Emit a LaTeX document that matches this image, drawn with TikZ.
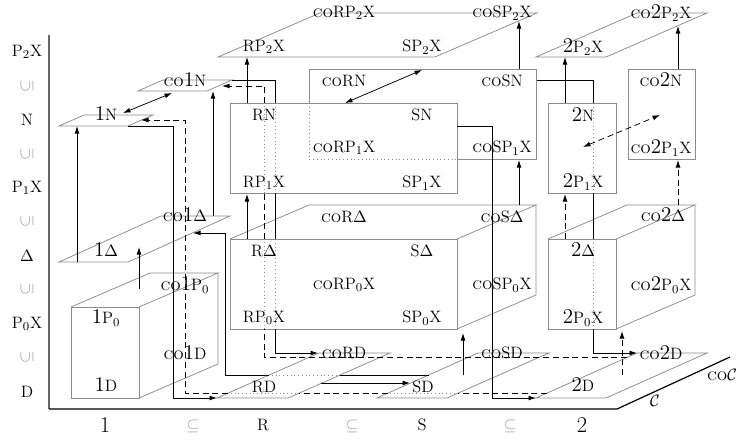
\documentclass[tikz,border=0pt]{standalone}
\usepackage{fontspec}
\usetikzlibrary{arrows.meta}
\newcommand{\dg}[1]{{\fontsize{14}{16}\selectfont #1}}
\newcommand{\co}{\textsc{co}}
\begin{document}
\begin{tikzpicture}[x=0.6667pt,y=-0.6667pt,
  font=\fontsize{11}{13}\selectfont,
  pl/.style={draw=black!45, line width=0.5pt},
  ln/.style={draw=black, line width=0.5pt},
  ar/.style={ln, -{Latex[length=5pt,width=3.2pt]}},
  dbl/.style={ln, {Latex[length=5pt,width=3.2pt]}-{Latex[length=5pt,width=3.2pt]}},
  dsh/.style={ln, dash pattern=on 4pt off 2.5pt},
  dar/.style={ar, dash pattern=on 4pt off 2.5pt},
  ddbl/.style={dbl, dash pattern=on 4pt off 2.5pt},
  hid/.style={draw=black!45, dotted, line width=0.5pt},
  lb/.style={inner sep=0pt, anchor=center},
  sub/.style={inner sep=0pt, anchor=center, text=black!40},
]
\useasboundingbox (0,0) rectangle (742,439);

% axes
\draw[draw=black!60, line width=0.8pt] (49,35) -- (49,409);
\draw[line width=0.8pt] (49,409) -- (617,409) -- (730,357);
\node[lb] (coC) at (722,375) {\co$\mathcal{C}$};
\node[lb] (C) at (655,401) {$\mathcal{C}$};

% row labels
\node[lb] (rP2) at (27,52) {P$_2$X};
\node[sub,rotate=90] (s1) at (27,86) {$\subseteq$};
\node[lb] (rN) at (27,120) {N};
\node[sub,rotate=90] (s2) at (27,154) {$\subseteq$};
\node[lb] (rP1) at (27,188) {P$_1$X};
\node[sub,rotate=90] (s3) at (27,221) {$\subseteq$};
\node[lb] (rDe) at (27,256) {$\Delta$};
\node[sub,rotate=90] (s4) at (27,289) {$\subseteq$};
\node[lb] (rP0) at (27,324) {P$_0$X};
\node[sub,rotate=90] (s5) at (27,357) {$\subseteq$};
\node[lb] (rD) at (27,392) {D};

% column labels
\node[lb] (c1) at (105,425) {\fontsize{15}{17}\selectfont 1};
\node[sub] (t1) at (193,426) {$\subseteq$};
\node[lb] (cR) at (263,425) {R};
\node[sub] (t2) at (352,426) {$\subseteq$};
\node[lb] (cS) at (422,425) {S};
\node[sub] (t3) at (510,426) {$\subseteq$};
\node[lb] (c2) at (582,425) {\fontsize{15}{17}\selectfont 2};

% ---------- planes ----------
\draw[pl] (59,126) -- (128,126) -- (153,115) -- (84,115) -- cycle;
\draw[pl] (138,91) -- (207,91) -- (232,80) -- (163,80) -- cycle;
\draw[pl] (59,262) -- (128,262) -- (230,216) -- (161,216) -- cycle;
\draw[pl] (217,398) -- (288,398) -- (390,353) -- (319,353) -- cycle;
\draw[pl] (377,398) -- (447,398) -- (549,353) -- (478,353) -- cycle;
\draw[pl] (536,398) -- (606,398) -- (707,353) -- (637,353) -- cycle;
\draw[pl] (218,57) -- (435,57) -- (537,13) -- (320,13) -- cycle;
\draw[pl] (536,57) -- (606,57) -- (707,13) -- (637,13) -- cycle;

% ---------- boxes ----------
\draw[pl] (71,307) rectangle (139,398);
\draw[pl] (71,307) -- (150,273) -- (218,273) -- (139,307);
\draw[pl] (218,273) -- (218,364) -- (139,398);
\draw[pl] (230,239) rectangle (457,329);
\draw[pl] (230,239) -- (309,205) -- (536,205) -- (457,239);
\draw[pl] (536,205) -- (536,295) -- (457,329);
\draw[pl] (548,239) rectangle (616,329);
\draw[pl] (548,239) -- (627,205) -- (695,205) -- (616,239);
\draw[pl] (695,205) -- (695,295) -- (616,329);

% ---------- N / P1X rectangles ----------
\draw[pl] (230,103) rectangle (457,193);
\draw[pl] (309,103) -- (309,69) -- (536,69) -- (536,159) -- (457,159);
\draw[hid] (309,103) -- (309,159) -- (457,159);
\draw[pl] (548,103) rectangle (616,193);
\draw[pl] (628,69) rectangle (695,159);

% ---------- labels column 1 ----------
\node[lb] (n1N) at (106,114) {\dg{1}N};
\node[lb] (nco1N) at (185,80) {\co\dg{1}N};
\node[lb] (n1De) at (106,250) {\dg{1}$\Delta$};
\node[lb] (nco1De) at (185,215) {\co\dg{1}$\Delta$};
\node[lb] (n1P) at (106,318) {\dg{1}P$_0$};
\node[lb] (nco1P) at (185,285) {\co\dg{1}P$_0$};
\node[lb] (n1D) at (106,385) {\dg{1}D};
\node[lb] (nco1D) at (185,353) {\co\dg{1}D};

% ---------- labels R / S ----------
\node[lb] (nRP2) at (264,47) {RP$_2$X};
\node[lb] (nSP2) at (422,47) {SP$_2$X};
\node[lb] (ncoRP2) at (344,13) {\co RP$_2$X};
\node[lb] (ncoSP2) at (502,13) {\co SP$_2$X};
\node[lb] (nRN) at (264,115) {RN};
\node[lb] (nSN) at (422,115) {SN};
\node[lb] (ncoRN) at (344,81) {\co RN};
\node[lb] (ncoSN) at (502,81) {\co SN};
\node[lb] (ncoRP1) at (344,148) {\co RP$_1$X};
\node[lb] (ncoSP1) at (502,148) {\co SP$_1$X};
\node[lb] (nRP1) at (264,183) {RP$_1$X};
\node[lb] (nSP1) at (422,183) {SP$_1$X};
\node[lb] (ncoRDe) at (344,217) {\co R$\Delta$};
\node[lb] (ncoSDe) at (502,217) {\co S$\Delta$};
\node[lb] (nRDe) at (264,251) {R$\Delta$};
\node[lb] (nSDe) at (422,251) {S$\Delta$};
\node[lb] (ncoRP0) at (344,285) {\co RP$_0$X};
\node[lb] (ncoSP0) at (502,285) {\co SP$_0$X};
\node[lb] (nRP0) at (264,318) {RP$_0$X};
\node[lb] (nSP0) at (422,318) {SP$_0$X};
\node[lb] (ncoRD) at (344,353) {\co RD};
\node[lb] (ncoSD) at (502,353) {\co SD};
\node[lb] (nRD) at (264,387) {RD};
\node[lb] (nSD) at (423,387) {SD};

% ---------- labels column 2 ----------
\node[lb] (n2P2) at (583,47) {\dg{2}P$_2$X};
\node[lb] (nco2P2) at (661,13) {\co\dg{2}P$_2$X};
\node[lb] (nco2N) at (661,80) {\co\dg{2}N};
\node[lb] (n2N) at (583,115) {\dg{2}N};
\node[lb] (nco2P1) at (661,148) {\co\dg{2}P$_1$X};
\node[lb] (n2P1) at (583,182) {\dg{2}P$_1$X};
\node[lb] (nco2De) at (663,215) {\co\dg{2}$\Delta$};
\node[lb] (n2De) at (583,250) {\dg{2}$\Delta$};
\node[lb] (nco2P0) at (661,285) {\co\dg{2}P$_0$X};
\node[lb] (n2P0) at (583,318) {\dg{2}P$_0$X};
\node[lb] (nco2D) at (661,353) {\co\dg{2}D};
\node[lb] (n2D) at (583,385) {\dg{2}D};

% ---------- connectors ----------
% column 1
\draw[dbl] (123,113) -- (172,93);
\draw[ar] (77,262) -- (77,126);
\draw[ar] (128,126) -- (173,126) -- (173,398) -- (217,398);
\draw[dsh] (547,393) -- (458,393);
\draw[hid] (458,393) -- (388,393);
\draw[dsh] (388,393) -- (299,393);
\draw[hid] (299,393) -- (228,393);
\draw[dar] (228,393) -- (185,393) -- (185,120) -- (141,120);
\draw[ar] (213,216) -- (213,91);
\draw[ar] (139,289) -- (139,247);
\draw[ln] (429,375) -- (340,375);
\draw[hid] (340,375) -- (269,375);
\draw[ar] (269,375) -- (225,375) -- (225,233) -- (193,233);

% R / S
\draw[ln] (232,80) -- (275,80) -- (275,103);
\draw[hid] (275,103) -- (275,193);
\draw[ln] (275,193) -- (275,239);
\draw[hid] (275,239) -- (275,329);
\draw[ar] (275,329) -- (275,353) -- (318,353);
\draw[dsh] (627,357) -- (264,357) -- (264,329);
\draw[hid] (264,329) -- (264,239);
\draw[dsh] (264,239) -- (264,193);
\draw[hid] (264,193) -- (264,103);
\draw[dar] (264,103) -- (264,86) -- (222,86);
\draw[ar] (463,375) -- (463,333);
\draw[ar] (457,126) -- (492,126) -- (492,398) -- (536,398);
\draw[ar] (519,205) -- (519,160);
\draw[ar] (519,69) -- (519,21);
\draw[ar] (247,239) -- (247,194);
\draw[ar] (247,103) -- (247,57);
\draw[dbl] (345,103) -- (422,70);
\draw[ar] (321,383) -- (410,383);

% column 2
\draw[ar] (565,103) -- (565,57);
\draw[ar] (678,69) -- (678,26);
\draw[ln] (537,80) -- (593,80) -- (593,103);
\draw[hid] (593,103) -- (593,193);
\draw[ln] (593,193) -- (593,239);
\draw[hid] (593,239) -- (593,329);
\draw[ar] (593,329) -- (593,353) -- (637,353);
\draw[dar] (565,239) -- (565,194);
\draw[dar] (678,205) -- (678,160);
\draw[ddbl] (583,147) -- (660,115);
\draw[dar] (622,375) -- (622,331);
\end{tikzpicture}
\end{document}
